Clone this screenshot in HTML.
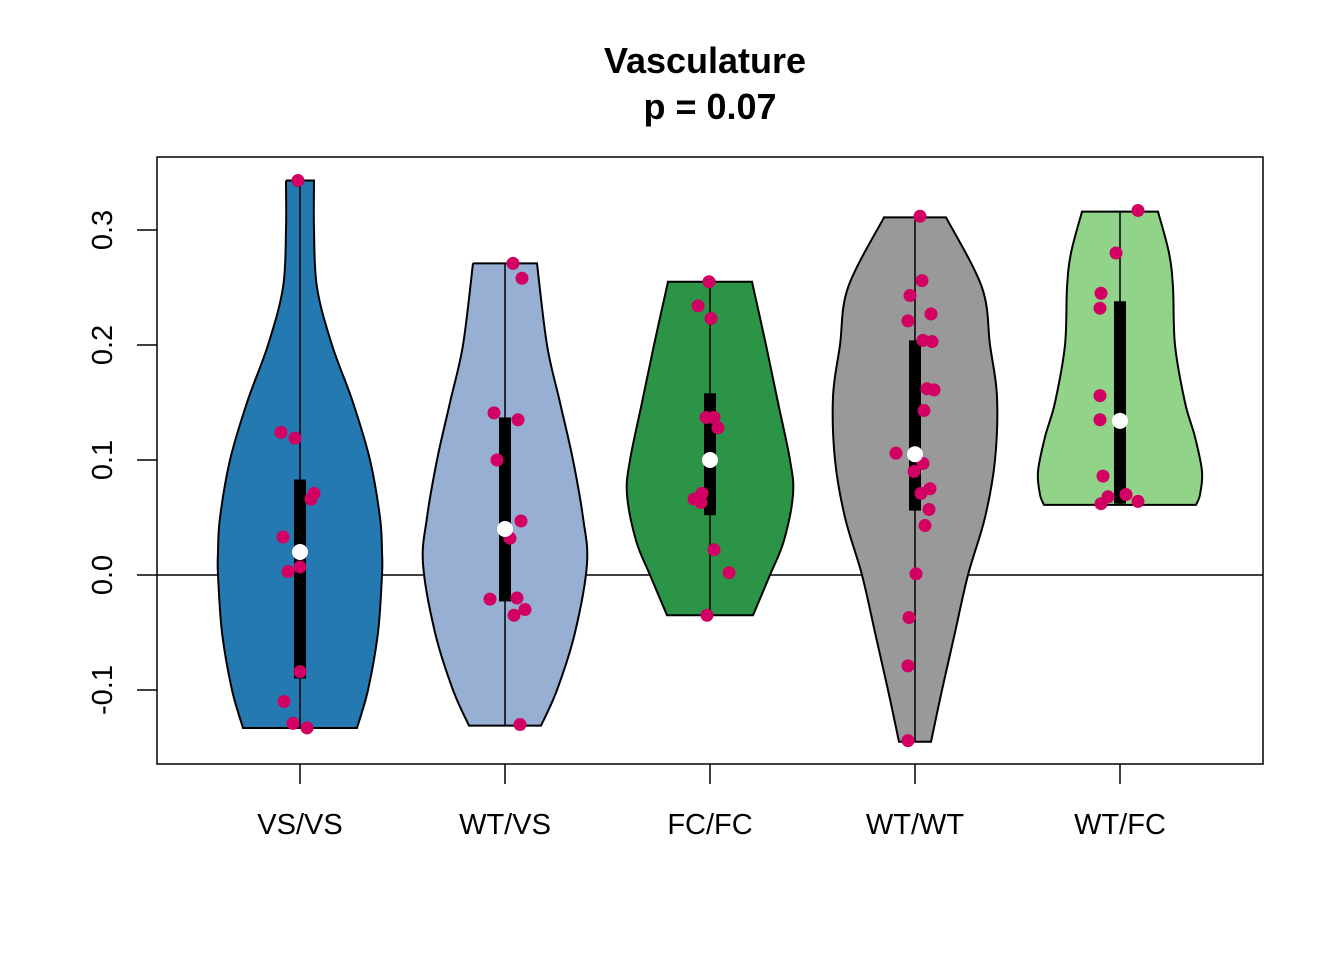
<!DOCTYPE html>
<html><head><meta charset="utf-8"><style>
html,body{margin:0;padding:0;background:#fff;}
svg{display:block;font-family:"Liberation Sans",Arial,sans-serif;}
</style></head><body>
<svg id="chart" width="1344" height="960" viewBox="0 0 1344 960">
<text x="705" y="73" text-anchor="middle" font-size="36" font-weight="bold">Vasculature</text>
<text x="710" y="119" text-anchor="middle" font-size="36" font-weight="bold">p = 0.07</text>
<g id="plot"></g>
<rect x="157" y="157" width="1106" height="607" fill="none" stroke="#000" stroke-width="1.5"/>
</svg>
<script>
const categories = ["VS/VS","WT/VS","FC/FC","WT/WT","WT/FC"];
const colors = ["#2479b0","#96afd3","#2b9446","#999999","#91d389"];
// violin profiles: values and half-widths (px) at those values
const profVals = [
 [0.343,0.30,0.25,0.2,0.15,0.1,0.05,0.02,0.0,-0.05,-0.1,-0.133],
 [0.271,0.2,0.15,0.1,0.05,0.01,-0.05,-0.1,-0.131],
 [0.255,0.2,0.15,0.1,0.07,0.03,0.0,-0.035],
 [0.311,0.25,0.2,0.155,0.1,0.05,0.0,-0.05,-0.1,-0.145],
 [0.316,0.28,0.25,0.2,0.15,0.12,0.09,0.07,0.061]
];
const profHW = [
 [14,14,17,32,53,70,80,82,82,78,68,57],
 [32,42,55,68,78,82,70,52,36],
 [42,56,68,80,83,74,60,43],
 [31,67,75,82,80,70,53,40,27,16],
 [38,49,53,55,65,75,82,80,76]
];
const q1 = [-0.09,-0.023,0.052,0.056,0.062];
const q3 = [0.083,0.137,0.158,0.204,0.238];
const medians = [0.02,0.04,0.1,0.105,0.134];
const pointVals = [
 [0.343,0.124,0.119,0.033,0.071,0.066,0.003,0.007,-0.084,-0.110,-0.129,-0.133],
 [0.271,0.258,0.141,0.135,0.1,0.047,0.032,-0.021,-0.020,-0.030,-0.035,-0.130],
 [0.255,0.234,0.223,0.137,0.137,0.128,0.071,0.066,0.063,0.022,0.002,-0.035],
 [0.312,0.256,0.243,0.227,0.221,0.204,0.203,0.162,0.161,0.143,0.106,0.097,0.090,0.075,0.071,0.057,0.043,0.001,-0.037,-0.079,-0.144],
 [0.317,0.280,0.245,0.232,0.156,0.135,0.086,0.068,0.070,0.062,0.064]
];
const jitter = [
 [-2,-19,-5,-17,14,11,-12,0,0,-16,-7,7],
 [8,17,-11,13,-8,16,5,-15,12,20,9,15],
 [-1,-12,1,-4,4,8,-8,-16,-9,4,19,-3],
 [5,7,-5,16,-7,8,17,12,19,9,-19,8,-1,15,6,14,10,1,-6,-7,-7],
 [18,-4,-19,-20,-20,-20,-17,-12,6,-19,18]
];
const yTicks = [-0.1,0.0,0.1,0.2,0.3];
const yTickLabels = ["-0.1","0.0","0.1","0.2","0.3"];

const NS="http://www.w3.org/2000/svg";
const g=document.getElementById('plot');
function yS(v){return 575-v*1150;}
function xS(i){return 300+i*205;}
function mk(tag,attrs){const e=document.createElementNS(NS,tag);for(const k in attrs)e.setAttribute(k,attrs[k]);g.appendChild(e);return e;}
function smooth(pts){
 let d="";
 for(let i=0;i<pts.length-1;i++){
  const p0=pts[Math.max(0,i-1)],p1=pts[i],p2=pts[i+1],p3=pts[Math.min(pts.length-1,i+2)];
  const c1=[p1[0]+(p2[0]-p0[0])/6,p1[1]+(p2[1]-p0[1])/6];
  const c2=[p2[0]-(p3[0]-p1[0])/6,p2[1]-(p3[1]-p1[1])/6];
  d+=` C${c1[0].toFixed(1)},${c1[1].toFixed(1)} ${c2[0].toFixed(1)},${c2[1].toFixed(1)} ${p2[0].toFixed(1)},${p2[1].toFixed(1)}`;
 }
 return d;
}
// zero line
const zl=mk('line',{x1:157,x2:1263,y1:yS(0),y2:yS(0),stroke:'#000','stroke-width':1.5});



categories.forEach((c,i)=>{
 const cx=xS(i);
 const right=profVals[i].map((v,k)=>[cx+profHW[i][k],yS(v)]);
 const left=profVals[i].map((v,k)=>[cx-profHW[i][k],yS(v)]).reverse();
 let d=`M${left[left.length-1][0]},${left[left.length-1][1]} L${right[0][0]},${right[0][1]}`+smooth(right)+` L${left[0][0]},${left[0][1]}`+smooth(left)+" Z";
 const p=mk('path',{d:d,fill:colors[i],stroke:'#000','stroke-width':2});
 
 
 const vmax=profVals[i][0],vmin=profVals[i][profVals[i].length-1];
 const w=mk('line',{x1:cx,x2:cx,y1:yS(vmax),y2:yS(vmin),stroke:'#000','stroke-width':1.5});
 
 
 const b=mk('rect',{x:cx-6,y:yS(q3[i]),width:12,height:yS(q1[i])-yS(q3[i]),fill:'#000'});
 
 
 pointVals[i].forEach((v,k)=>{
  const pt=mk('circle',{cx:cx+jitter[i][k],cy:yS(v),r:6.5,fill:'#d10062'});
  
  
 });
 const m=mk('circle',{cx:cx,cy:yS(medians[i]),r:8,fill:'#fff'});
 
 
 const t=mk('line',{x1:cx,x2:cx,y1:764,y2:784,stroke:'#000','stroke-width':1.5});
 
 
 const l=mk('text',{x:cx,y:834,'text-anchor':'middle','font-size':29});
 l.textContent=c;
 
 
});
yTicks.forEach((v,k)=>{
 const y=yS(v);
 const t=mk('line',{x1:137,x2:157,y1:y,y2:y,stroke:'#000','stroke-width':1.5});
 
 
 const l=mk('text',{x:112,y:y,'text-anchor':'middle','font-size':29,transform:`rotate(-90 112 ${y})`});
 l.textContent=yTickLabels[k];
 
 
});
</script>
</body></html>
